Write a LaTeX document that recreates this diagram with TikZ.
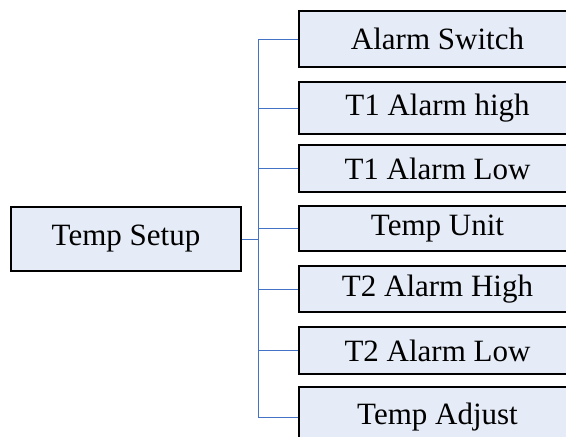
\documentclass[tikz,border=0pt]{standalone}
\usepackage{fontspec}
\setmainfont{Liberation Serif}
\definecolor{boxfill}{HTML}{E6ECF7}
\definecolor{linkblue}{HTML}{4472C4}
\begin{document}
\begin{tikzpicture}[x=1pt,y=-1pt,
  item/.style={draw=black, line width=1.1pt, fill=boxfill, inner sep=0pt,
    font=\fontsize{31}{31}\selectfont, anchor=center},
  link/.style={draw=linkblue, line width=1pt}]
\useasboundingbox (0,0) rectangle (566,437);
\begin{scope}
\clip (0,0) rectangle (566,437);
\node[item, minimum width=230pt, minimum height=64pt] (setup) at (126,239) {Temp Setup};
\node[item, minimum width=277pt, minimum height=56pt] (b1) at (437.5,39) {Alarm Switch};
\node[item, minimum width=277pt, minimum height=52pt] (b2) at (437.5,108) {T1 Alarm high};
\node[item, minimum width=277pt, minimum height=47pt] (b3) at (437.5,168.5) {T1 Alarm Low};
\node[item, minimum width=277pt, minimum height=45pt] (b4) at (437.5,228.5) {Temp Unit};
\node[item, minimum width=277pt, minimum height=46pt] (b5) at (437.5,289) {T2 Alarm High};
\node[item, minimum width=277pt, minimum height=47pt] (b6) at (437.5,350.5) {T2 Alarm Low};
\node[item, minimum width=277pt, minimum height=60pt] (b7) at (437.5,417) {Temp Adjust};
\coordinate (trunk) at (258,239);
\draw[link] (setup.east) -- (trunk);
\foreach \b in {b1,b2,b3,b4,b5,b6,b7}{
  \draw[link] (trunk) |- (\b.west);
}
\end{scope}
\end{tikzpicture}
\end{document}
